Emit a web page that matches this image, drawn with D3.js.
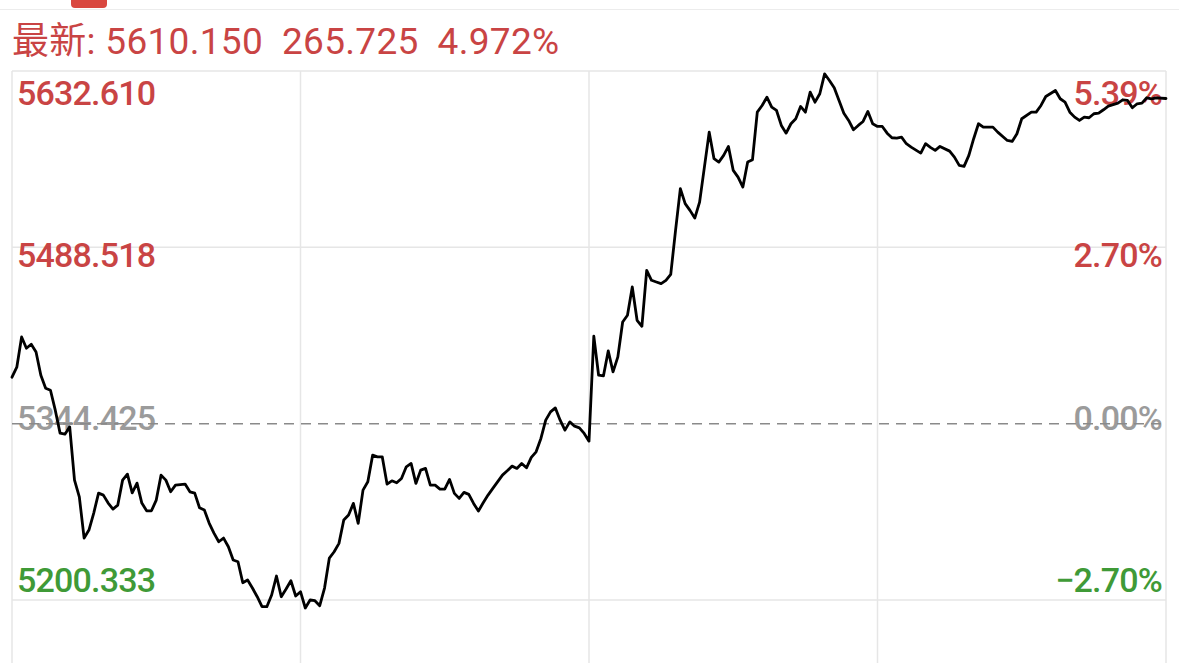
<!DOCTYPE html>
<html>
<head>
<meta charset="utf-8">
<script src="https://cdn.jsdelivr.net/npm/d3@7"></script>
<style>
  html, body { margin: 0; padding: 0; background: #fff; }
  svg { display: block; }
  text { font-family: Roboto, "Noto Sans CJK SC", sans-serif; }
</style>
</head>
<body>
<svg id="chart" width="1179" height="663"></svg>
<script>
// ---- data ----
const headerLabel = "最新:";
const latestPrice = "5610.150";
const latestChange = "265.725";
const latestPct = "4.972%";

const preClose = 5344.425;
const priceTicks = [5632.610, 5488.518, 5344.425, 5200.333];
const priceTickLabels = ["5632.610", "5488.518", "5344.425", "5200.333"];
const pctTickLabels = ["5.39%", "2.70%", "0.00%", "−2.70%"];
const timeGrid = [0, 60, 120, 180, 240];

const minutes = [
  0,1,2,3,4,5,6,7,8,9,10,11,12,13,14,15,16,17,18,19,
  20,21,22,23,24,25,26,27,28,29,30,31,32,33,34,35,36,37,38,39,
  40,41,42,43,44,45,46,47,48,49,50,51,52,53,54,55,56,57,58,59,
  60,61,62,63,64,65,66,67,68,69,70,71,72,73,74,75,76,77,78,79,
  80,81,82,83,84,85,86,87,88,89,90,91,92,93,94,95,96,97,98,99,
  100,102,103,104,105,106,107,108,109,110,111,112,113,114,115,116,117,118,119,120,
  121,122,123,124,125,126,127,128,129,130,131,132,133,134,135,136,137,138,139,140,
  141,142,143,144,145,146,147,148,149,150,151,152,153,154,155,156,157,158,159,160,
  161,162,163,164,165,166,167,168,169,170,171,172,173,174,175,176,177,178,179,180,
  181,182,183,184,185,186,187,189,190,191,192,193,195,196,197,198,199,200,201,202,
  204,205,207,208,209,210,212,213,214,215,217,218,219,220,221,222,223,224,225,226,
  227,228,230,231,232,233,234,235,236,237,238,240
];
const prices = [
  5382.39,5390.55,5415.29,5406.06,5409.33,5403.04,5384.02,5373.41,5371.77,5355.45,
  5336.67,5335.85,5341.81,5298.30,5284.67,5250.95,5257.48,5271.36,5287.69,5286.05,
  5279.52,5274.62,5277.89,5298.30,5303.20,5287.93,5295.85,5279.52,5273.24,5273.24,
  5281.97,5302.38,5298.30,5288.75,5294.22,5294.63,5295.03,5288.75,5287.69,5275.69,
  5273.81,5263.19,5255.03,5247.93,5250.95,5243.85,5232.99,5231.60,5214.46,5216.66,
  5210.13,5203.02,5194.86,5194.86,5204.41,5219.93,5203.02,5209.31,5216.09,5203.60,
  5207.11,5193.80,5200.33,5199.76,5195.68,5210.13,5234.62,5239.77,5246.62,5265.64,
  5269.73,5279.28,5262.95,5290.14,5296.91,5318.71,5317.32,5317.32,5295.03,5297.73,
  5296.10,5299.69,5309.16,5311.93,5295.61,5306.46,5307.85,5294.22,5294.22,5290.95,
  5290.95,5298.87,5287.44,5283.36,5288.26,5286.62,5279.28,5272.99,5279.77,5286.05,
  5291.52,5302.38,5305.89,5309.73,5307.85,5311.93,5308.34,5316.83,5321.40,5332.34,
  5347.28,5354.06,5357.32,5347.28,5339.12,5345.89,5342.38,5341.00,5336.42,5330.14,
  5415.86,5384.02,5383.45,5403.86,5386.71,5398.96,5427.53,5433.00,5456.11,5428.92,
  5424.02,5469.74,5461.58,5460.19,5458.88,5461.58,5466.47,5502.40,5536.44,5524.20,
  5518.72,5512.44,5525.50,5554.08,5582.65,5560.93,5558.16,5563.63,5570.97,5551.38,
  5545.91,5537.75,5558.16,5560.12,5598.98,5604.45,5611.22,5603.06,5600.36,5588.12,
  5581.83,5589.51,5593.59,5603.63,5598.98,5615.30,5607.14,5614.00,5630.32,5624.85,
  5618.89,5608.53,5598.16,5592.20,5584.61,5588.12,5591.38,5599.55,5589.51,5587.30,
  5587.30,5581.83,5578.08,5577.75,5578.57,5573.18,5570.40,5565.51,5573.18,5570.16,
  5567.71,5570.97,5567.14,5562.24,5555.46,5554.65,5563.63,5577.26,5589.51,5586.73,
  5586.73,5582.65,5575.87,5575.06,5581.34,5593.59,5598.98,5598.98,5604.45,5611.80,
  5616.69,5609.92,5607.14,5598.98,5594.90,5592.20,5594.90,5594.41,5597.67,5598.16,
  5600.94,5603.87,5606.32,5609.10,5608.53,5602.57,5605.83,5606.32,5610.73,5609.92,
  5610.73,5610.15
];

// ---- drawing ----
const svg = d3.select("#chart");
const W = 1179, H = 663;
const plotLeft = 12, plotRight = 1166, plotTop = 71, plotLow = 600;

const RED = "#c94444", GREEN = "#3f9a37", GRAY = "#9b9b9b";

const x = d3.scaleLinear().domain([0, 240]).range([plotLeft, plotRight]);
const y = d3.scaleLinear().domain([priceTicks[3], priceTicks[0]]).range([plotLow, plotTop]);
// label baselines are spread between the first and last grid line
const labelY = d3.scaleLinear().domain([priceTicks[0], priceTicks[3]]).range([plotTop + 34, plotLow - 8]);

// header strip
svg.append("line").attr("x1", 0).attr("x2", W).attr("y1", 9.5).attr("y2", 9.5)
  .attr("stroke", "#ececec").attr("stroke-width", 1);
svg.append("rect").attr("x", 71).attr("y", -6).attr("width", 36).attr("height", 14)
  .attr("rx", 4).attr("fill", "#d9473f");

const header = svg.append("text").attr("x", 12).attr("y", 54)
  .attr("font-size", 37).attr("letter-spacing", 0.3)
  .attr("fill", RED).attr("xml:space", "preserve");
header.text(`${headerLabel} ${latestPrice}  ${latestChange}  ${latestPct}`);

// grid
const grid = svg.append("g");
priceTicks.forEach((v) => {
  if (v === preClose) return;
  grid.append("line").attr("x1", plotLeft).attr("x2", plotRight)
    .attr("y1", y(v)).attr("y2", y(v))
    .attr("stroke", "#e6e6e6").attr("stroke-width", 1.5);
});
timeGrid.forEach(t => {
  grid.append("line").attr("x1", x(t)).attr("x2", x(t))
    .attr("y1", plotTop).attr("y2", H)
    .attr("stroke", "#e6e6e6").attr("stroke-width", 1.5);
});

// labels
const colorFor = v => v > preClose ? RED : (v < preClose ? GREEN : GRAY);
const lab = svg.append("g").attr("font-size", 34).attr("font-weight", 500)
  .attr("letter-spacing", -0.8);
priceTicks.forEach((v, i) => {
  lab.append("text").attr("x", 17).attr("y", labelY(v))
    .attr("fill", colorFor(v)).text(priceTickLabels[i]);
  lab.append("text").attr("x", 1162).attr("y", labelY(v))
    .attr("text-anchor", "end").attr("fill", colorFor(v)).text(pctTickLabels[i]);
});

// pre-close dashed line
svg.append("line").attr("x1", plotLeft).attr("x2", plotRight)
  .attr("y1", y(preClose)).attr("y2", y(preClose))
  .attr("stroke", "#8a8a8a").attr("stroke-width", 1.5)
  .attr("stroke-dasharray", "10,7");

// price line
const pts = minutes.map((m, i) => [m, prices[i]]);
const line = d3.line().x(d => x(d[0])).y(d => y(d[1]));
svg.append("path").datum(pts).attr("d", line)
  .attr("fill", "none").attr("stroke", "#000").attr("stroke-width", 2.8)
  .attr("stroke-linejoin", "round").attr("stroke-linecap", "round");
</script>
</body>
</html>
